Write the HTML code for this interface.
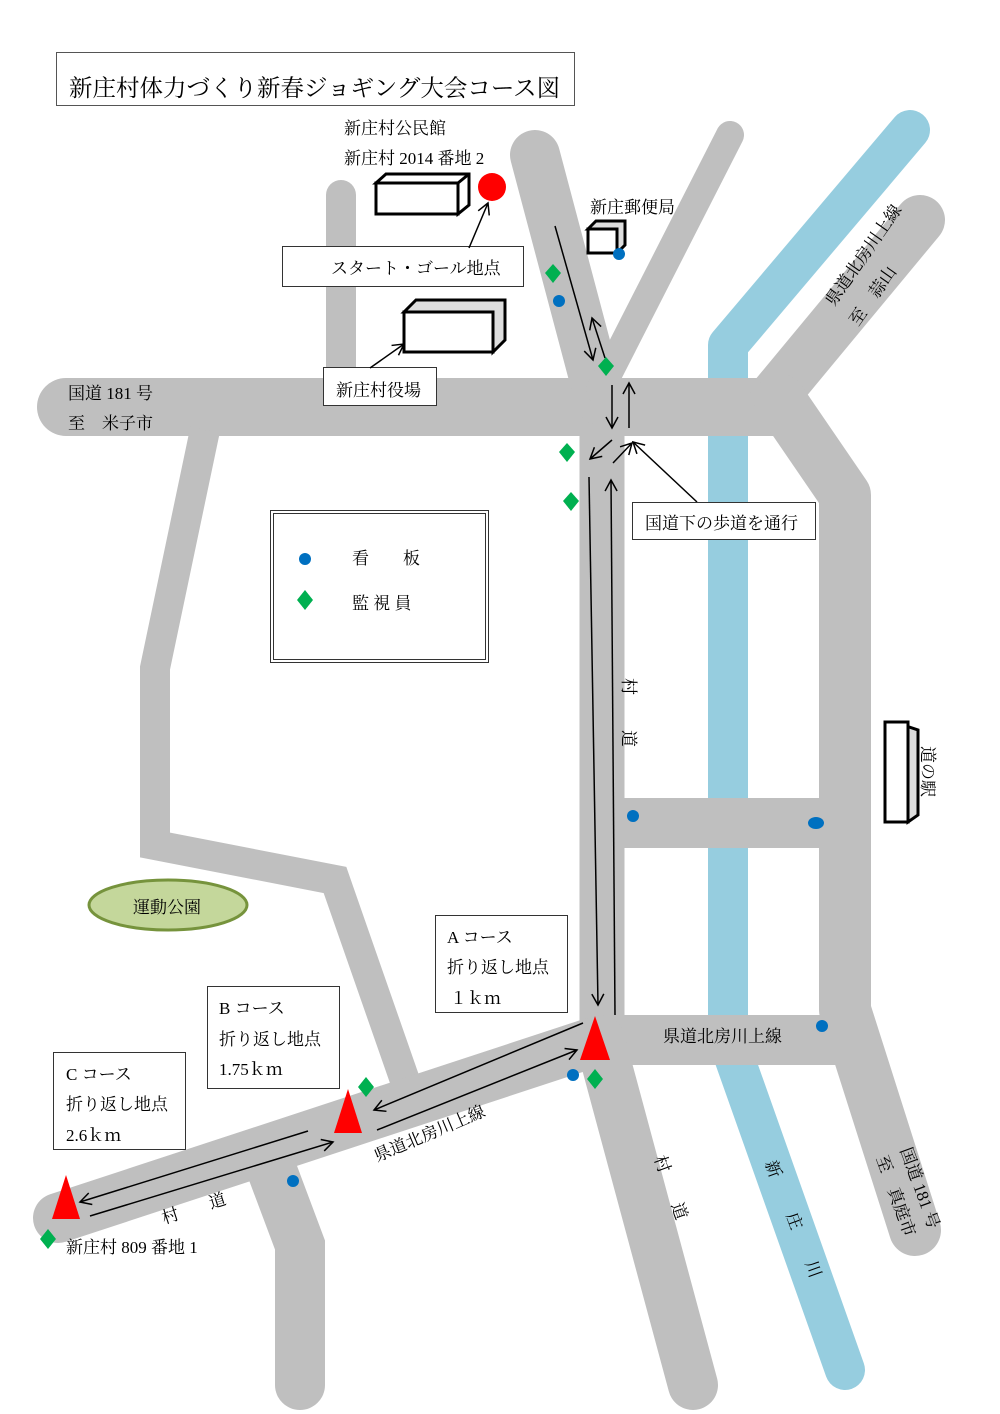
<!DOCTYPE html>
<html><head><meta charset="utf-8"><style>
html,body{margin:0;padding:0;background:#fff}
svg{display:block}
text{font-family:"Liberation Serif","Noto Serif CJK SC","Noto Sans CJK JP",serif;fill:#000}
</style></head><body>
<svg width="1000" height="1414" viewBox="0 0 1000 1414" xmlns="http://www.w3.org/2000/svg">
<defs>
<marker id="ah" markerWidth="14" markerHeight="14" refX="12" refY="7" orient="auto" markerUnits="userSpaceOnUse">
<path d="M1,1 L12,7 L1,13" fill="none" stroke="#000" stroke-width="1.5"/></marker>
</defs>
<g stroke="#bfbfbf" fill="none">
<polyline points="910,130 728,345 728,1040 845,1370" stroke="#96cddf" stroke-width="40" stroke-linecap="round" stroke-linejoin="round"/>
<line x1="66" y1="407" x2="780" y2="407" stroke-width="58" stroke-linecap="round"/>
<polygon points="760,378 795,378 795,436 760,436" fill="#bfbfbf" stroke="none"/>
<line x1="775" y1="395" x2="920" y2="220" stroke-width="50" stroke-linecap="round"/>
<polyline points="780,400 845,495 845,1010 915,1230" stroke-width="52" stroke-linecap="round" stroke-linejoin="round"/>
<line x1="535" y1="155" x2="600" y2="400" stroke-width="50" stroke-linecap="round"/>
<line x1="600" y1="390" x2="730" y2="135" stroke-width="28" stroke-linecap="round"/>
<line x1="602" y1="430" x2="602" y2="1040" stroke-width="45"/>
<line x1="341" y1="195" x2="341" y2="385" stroke-width="30" stroke-linecap="round"/>
<polyline points="205,430 155,668 155,845 335,880 410,1095" stroke-width="30" stroke-linejoin="miter"/>
<line x1="615" y1="823" x2="820" y2="823" stroke-width="50"/>
<line x1="600" y1="1040" x2="850" y2="1040" stroke-width="50"/>
<line x1="600" y1="1040" x2="58" y2="1218" stroke-width="50" stroke-linecap="round"/>
<polyline points="270,1165 300,1245 300,1385" stroke-width="50" stroke-linecap="round" stroke-linejoin="miter"/>
<line x1="600" y1="1040" x2="693" y2="1385" stroke-width="50" stroke-linecap="round"/>
</g>
<rect x="56.5" y="52.5" width="518" height="53" fill="#fff" stroke="#555"/>
<text x="69" y="96" font-size="23.5">新庄村体力づくり新春ジョギング大会コース図</text>
<text x="344" y="134" font-size="17">新庄村公民館</text>
<text x="344" y="164" font-size="17">新庄村 2014 番地 2</text>
<g stroke="#000" stroke-width="3" fill="#fff">
<polygon points="376,183 386,174 469,174 469,205 458,214 458,183"/><rect x="376" y="183" width="82" height="31"/>
<polyline points="458,183 469,174" fill="none"/>
<polygon points="404,312 416,300 505,300 505,340 493,352 493,312" fill="#ddd"/><rect x="404" y="312" width="89" height="40"/>
<polygon points="588,229 596,221 625,221 625,245 617,253 617,229" fill="#ddd"/><rect x="588" y="229" width="29" height="24"/>
<polygon points="885,722 894,722 918,730 918,815 908,822 908,730" fill="#ddd"/><rect x="885" y="722" width="23" height="100"/>
</g>
<circle cx="492" cy="187" r="14" fill="#f00"/>
<text x="590" y="213" font-size="17">新庄郵便局</text>
<rect x="282.5" y="246.5" width="241" height="40" fill="#fff" stroke="#333"/>
<text x="331" y="274" font-size="17">スタート・ゴール地点</text>
<line x1="469" y1="248" x2="488" y2="203" stroke="#000" stroke-width="1.5" marker-end="url(#ah)"/>
<rect x="323.5" y="367.5" width="113" height="38" fill="#fff" stroke="#333"/>
<text x="336" y="396" font-size="17">新庄村役場</text>
<line x1="370" y1="368" x2="404" y2="344" stroke="#000" stroke-width="1.5" marker-end="url(#ah)"/>
<text x="68" y="399" font-size="17">国道 181 号</text>
<text x="68" y="429" font-size="17">至　米子市</text>
<g stroke="#000" stroke-width="1.5" fill="none">
<line x1="555" y1="226" x2="593" y2="360" marker-end="url(#ah)"/>
<line x1="605" y1="358" x2="592" y2="318" marker-end="url(#ah)"/>
<line x1="612" y1="385" x2="612" y2="428" marker-end="url(#ah)"/>
<line x1="629" y1="428" x2="629" y2="383" marker-end="url(#ah)"/>
<line x1="612" y1="440" x2="590" y2="459" marker-end="url(#ah)"/>
<line x1="613" y1="463" x2="632" y2="443" marker-end="url(#ah)"/>
<line x1="697" y1="502" x2="633" y2="442" marker-end="url(#ah)"/>
<line x1="589" y1="477" x2="598" y2="1005" marker-end="url(#ah)"/>
<line x1="615" y1="1015" x2="611" y2="480" marker-end="url(#ah)"/>
<line x1="583" y1="1023" x2="374" y2="1110" marker-end="url(#ah)"/>
<line x1="377" y1="1130" x2="577" y2="1050" marker-end="url(#ah)"/>
<line x1="308" y1="1131" x2="80" y2="1202" marker-end="url(#ah)"/>
<line x1="90" y1="1216" x2="333" y2="1142" marker-end="url(#ah)"/>
</g>
<rect x="632.5" y="502.5" width="183" height="37" fill="#fff" stroke="#333"/>
<text x="645" y="529" font-size="17">国道下の歩道を通行</text>
<rect x="270.5" y="510.5" width="218" height="152" fill="#fff" stroke="#333"/>
<rect x="273.5" y="513.5" width="212" height="146" fill="none" stroke="#333"/>
<circle cx="305" cy="559" r="6" fill="#0070c0"/>
<text x="352" y="564" font-size="17">看　　板</text>
<polygon points="305,590 313,600 305,610 297,600" fill="#00b050"/>
<text x="352" y="609" font-size="17">監 視 員</text>
<g fill="#0070c0">
<circle cx="619" cy="254" r="6"/><circle cx="559" cy="301" r="6"/><circle cx="633" cy="816" r="6"/>
<ellipse cx="816" cy="823" rx="8" ry="6"/><circle cx="822" cy="1026" r="6"/><circle cx="573" cy="1075" r="6"/><circle cx="293" cy="1181" r="6"/>
</g>
<g fill="#00b050">
<polygon points="553,264 561,273 553,283 545,273"/>
<polygon points="606,357 614,366 606,376 598,366"/>
<polygon points="567,443 575,452 567,462 559,452"/>
<polygon points="571,492 579,501 571,511 563,501"/>
<polygon points="366,1077 374,1087 366,1097 358,1087"/>
<polygon points="595,1069 603,1079 595,1089 587,1079"/>
<polygon points="48,1229 56,1239 48,1249 40,1239"/>
</g>
<g fill="#f00">
<polygon points="595,1016 610,1060 580,1060"/>
<polygon points="348,1089 362,1133 334,1133"/>
<polygon points="66,1175 80,1219 52,1219"/>
</g>
<text font-size="17" transform="translate(623,678) rotate(90)">村</text>
<text font-size="17" transform="translate(623,730) rotate(90)">道</text>
<text font-size="17" transform="translate(922,746) rotate(90)">道の駅</text>
<ellipse cx="168" cy="905" rx="79" ry="25" fill="#c4d79b" stroke="#76933c" stroke-width="3"/>
<text x="133" y="913" font-size="17">運動公園</text>
<rect x="435.5" y="915.5" width="132" height="97" fill="#fff" stroke="#333"/>
<text x="447" y="943" font-size="17">A コース</text>
<text x="447" y="973" font-size="17">折り返し地点</text>
<text x="450" y="1004" font-size="17">１ｋｍ</text>
<rect x="207.5" y="986.5" width="132" height="102" fill="#fff" stroke="#333"/>
<text x="219" y="1014" font-size="17">B コース</text>
<text x="219" y="1045" font-size="17">折り返し地点</text>
<text x="219" y="1075" font-size="17">1.75ｋｍ</text>
<rect x="53.5" y="1052.5" width="132" height="97" fill="#fff" stroke="#333"/>
<text x="66" y="1080" font-size="17">C コース</text>
<text x="66" y="1110" font-size="17">折り返し地点</text>
<text x="66" y="1141" font-size="17">2.6ｋｍ</text>
<text x="663" y="1042" font-size="17">県道北房川上線</text>
<text font-size="17" transform="translate(377,1162) rotate(-23)">県道北房川上線</text>
<text font-size="17" transform="translate(164,1224) rotate(-18)">村</text>
<text font-size="17" transform="translate(211,1209) rotate(-18)">道</text>
<text x="66" y="1253" font-size="17">新庄村 809 番地 1</text>
<text font-size="17" transform="translate(654,1158) rotate(70)">村</text>
<text font-size="17" transform="translate(671,1205) rotate(70)">道</text>
<text font-size="17" transform="translate(765,1163) rotate(70)">新</text>
<text font-size="17" transform="translate(786,1215) rotate(70)">庄</text>
<text font-size="17" transform="translate(805,1263) rotate(70)">川</text>
<text font-size="17" transform="translate(900,1150) rotate(70)">国道 181 号</text>
<text font-size="17" transform="translate(876,1158) rotate(70)">至　真庭市</text>
<text font-size="17" transform="translate(834,307) rotate(-55)">県道北房川上線</text>
<text font-size="17" transform="translate(858,327) rotate(-55)">至　蒜山</text>
</svg>
</body></html>
